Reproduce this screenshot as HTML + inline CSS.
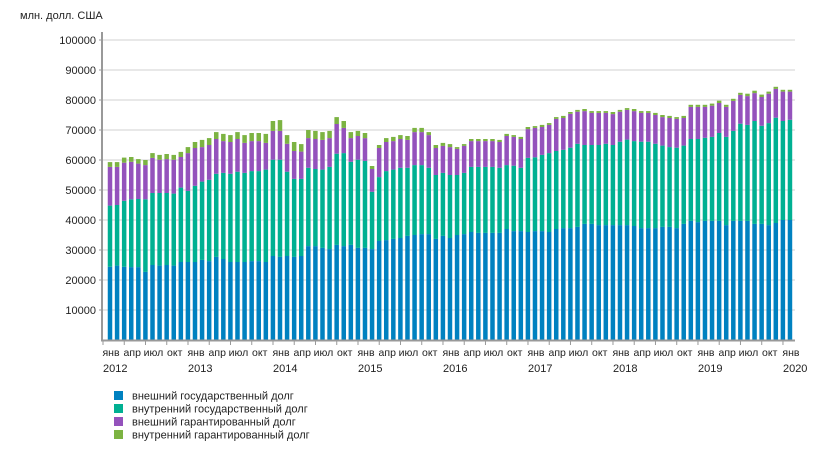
<!DOCTYPE html>
<html><head><meta charset="utf-8"><style>
body{margin:0;background:#fff;width:827px;height:444px;overflow:hidden}
svg text{font-family:"Liberation Sans",Arial,sans-serif;font-size:11px;fill:#222}
svg text.xl{font-size:10.5px}
</style></head><body>
<svg id="chart" width="827" height="444">
<text x="20" y="19">млн. долл. США</text>
<g id="grid"></g><g id="bars"></g><g id="axes"></g><g id="legend"></g>
</svg>
<script>
const blueTop=[24.4,24.8,24.4,24.3,24.3,22.7,25,24.8,25,24.8,26,26,26,26.7,26.3,27.7,27,26,26,26,26.3,26.3,26,28,27.7,28,27.7,28,31.3,31.3,30.7,30.3,31.7,31.3,31.7,30.7,30.7,30.3,33,33.3,33.7,34,34.7,35,35.3,35.3,33.7,34.7,34,35,35.3,36,35.7,35.7,35.7,35.7,37,36.3,36.3,36,36.3,36.3,36,37,37.3,37.3,37.7,38.7,38.7,38.3,38.3,38.3,38.3,38.3,38,37.3,37.3,37.3,37.7,37.7,37.3,38.7,39.7,39.3,39.7,39.7,39.7,38.3,39.7,39.7,39.7,38.7,38.7,38.3,39,40,40];
const greenTop=[44.8,45,46.4,46.9,47,46.9,49,49,49,48.8,50.8,49.7,51.4,52.8,53.4,55.4,55.7,55.4,56.1,55.7,56.3,56.3,56.8,60.1,60.1,56.1,53.7,53.7,57.4,57,56.8,57.7,62.1,62.3,59.4,60.1,59.7,49.4,54.3,56.3,56.8,57.4,57.4,58.3,58.3,57.4,55,55.7,55,55,55.7,57.7,57.7,57.7,57.7,57.4,58.3,58.1,57.4,60.7,60.9,61.7,62.3,63,63.4,64.1,65.4,65,65,65,65.4,65,66.1,66.8,66.3,66.1,66.1,65.4,64.8,64.3,64.1,64.8,67,67,67.4,67.7,69,67.7,69.7,72.1,71.7,73,71.4,72.3,74.1,73,73.4];
const purpleTop=[57.7,57.7,59.1,59.4,58.8,58.3,60.7,60.1,60.3,60.1,61,62.3,64,64.3,65,67,66.3,66,67,65.7,66.3,66.3,65.7,69.7,69.7,65.4,63,62.8,67.3,67,66.7,67.3,72,70.7,67.3,68,67.3,57,64,66,66.3,67,66.7,69.3,69.3,68.3,64,64.7,64.3,63.7,64.7,66.3,66.3,66.3,66.3,66,68,67.7,67,70.3,70.7,71,71.7,73.7,74,75.4,76.1,76.3,75.7,75.7,75.7,75.3,76.1,76.7,76.3,75.7,75.7,75,74.3,74,73.7,74,77.7,77.7,77.7,78.1,79,77.7,79.7,81.7,81.3,82.3,81,82.1,83.7,82.8,82.8];
const totalTop=[59.3,59.3,60.8,61,60.3,60,62.3,61.7,62,61.7,62.7,64.3,66,66.7,67.3,69.3,68.7,68.3,69.3,68.3,69,69,68.7,73,73.3,68.3,66,65.3,70,69.7,69.3,69.7,74.3,73,69.3,69.7,69,58,65,67.3,67.7,68.3,68,70.7,70.7,69.3,65,65.7,65.3,64.3,65.3,67,67,67,67,66.7,68.7,68.3,67.7,71,71.3,71.7,72.3,74.3,74.7,76,76.7,77,76.3,76.3,76.3,76,76.7,77.3,77,76.3,76.3,75.7,75,74.7,74.3,74.7,78.4,78.4,78.4,78.8,79.8,78.4,80.4,82.4,82.1,83.1,81.8,82.8,84.4,83.4,83.4];
// derived series (thousand mln USD)
const extGov=blueTop;
const intGov=greenTop.map((v,i)=>v-blueTop[i]);
const extGuar=purpleTop.map((v,i)=>v-greenTop[i]);
const intGuar=totalTop.map((v,i)=>v-purpleTop[i]);
const series=[extGov,intGov,extGuar,intGuar];
const seriesNames=["внешний государственный долг","внутренний государственный долг","внешний гарантированный долг","внутренний гарантированный долг"];
const seriesKeys=["ext-gov","int-gov","ext-guar","int-guar"];
const colors=["#0081c0","#00b092","#9452bc","#7cb342"];
const yTicks=[10000,20000,30000,40000,50000,60000,70000,80000,90000,100000];
const monthLabels=["янв","апр","июл","окт"];
const years=[2012,2013,2014,2015,2016,2017,2018,2019,2020];

const NS="http://www.w3.org/2000/svg";
const y=v=>340-v*0.003;
const x=i=>110+i*7.083;
function mk(t,a,p){const e=document.createElementNS(NS,t);for(const k in a)e.setAttribute(k,a[k]);p.appendChild(e);return e;}
const grid=document.getElementById('grid'),bars=document.getElementById('bars'),axes=document.getElementById('axes'),leg=document.getElementById('legend');
yTicks.forEach(t=>{
  const l=mk('line',{x1:103,x2:795,y1:y(t),y2:y(t),stroke:'#e8e8e8','stroke-width':2},grid);
  
  
  mk('line',{x1:99,x2:102,y1:y(t),y2:y(t),stroke:'#999'},axes);
  const tx=mk('text',{x:96,y:y(t)+4,'text-anchor':'end'},axes);tx.textContent=t;
  
  
});
extGov.forEach((_,i)=>{
  let base=0;
  series.forEach((s,k)=>{
    const v=s[i]*1000;
    const r=mk('rect',{x:x(i)-2.25,width:4.5,y:y(base+v),height:v*0.003,fill:colors[k]},bars);
    
    
    base+=v;
  });
});
mk('line',{x1:102,x2:102,y1:32,y2:341,stroke:'#999','stroke-width':2},axes);
mk('line',{x1:101,x2:795,y1:340.5,y2:340.5,stroke:'#999','stroke-width':2},axes);
for(let i=0;i<extGov.length;i+=3){
  mk('line',{x1:x(i)-7,x2:x(i)-7,y1:341,y2:345,stroke:'#999'},axes);
  const m=(i/3)%4;
  const t=mk('text',{x:x(i)+1,y:356,'text-anchor':'middle','class':'xl'},axes);t.textContent=monthLabels[m];
  
  
  if(m===0){const yt=mk('text',{x:x(i)-7,y:372},axes);yt.textContent=years[i/12];
    
    }
}
seriesNames.forEach((n,k)=>{
  const g=mk('g',{},leg);
  
  
  mk('rect',{x:114,y:391+k*13,width:9,height:9,fill:colors[k]},g);
  const t=mk('text',{x:132,y:399.5+k*13},g);t.textContent=n;
});
</script>
</body></html>
